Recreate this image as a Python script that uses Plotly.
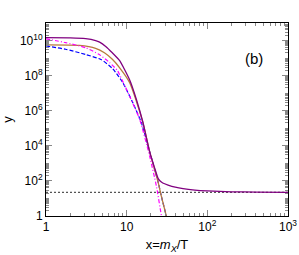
import plotly.graph_objects as go

# ---- data ----
x_purple = [1, 2, 3.1, 4.12, 4.62, 5.5, 6.64, 8.19, 10.9, 13.2, 15.9, 19.3, 22, 24.5, 26, 28, 32.6, 40, 50, 70, 100, 200, 400, 1000]
y_purple = [1.45e10, 1.42e10, 1.28e10, 1.0e10, 8.1e9, 4.6e9, 2.0e9, 7.1e8, 5.6e7, 4.4e6, 2.2e5, 4.5e3, 630, 140, 98, 76, 58, 44, 36, 30, 27, 24, 23, 22.4]

x_brown = [1, 2.6, 4.12, 5.3, 6.64, 8.19, 10.9, 13.2, 15.9, 19.3, 24.5, 27, 31, 33]
y_brown = [5.6e9, 5.25e9, 3.6e9, 2.0e9, 8.5e8, 2.8e8, 4.0e7, 3.5e6, 2.1e5, 4.5e3, 89, 12.6, 1.0, 0.25]

x_blue = [1, 1.75, 3.1, 4.8, 6.7, 8.9, 11.9, 15.2, 19.3, 24.5, 27, 31, 33]
y_blue = [4.9e9, 3.2e9, 1.6e9, 8.3e8, 2.5e8, 4.2e7, 2.9e6, 2.1e5, 4.5e3, 89, 12.6, 1.0, 0.25]

x_magenta = [1, 1.75, 3.1, 4.62, 6.15, 7.66, 8.19, 10.9, 14.5, 19.3, 23.4, 27, 29]
y_magenta = [1.26e10, 7.6e9, 3.9e9, 1.55e9, 5.5e8, 2.0e8, 1.1e8, 6.6e6, 3.2e5, 2.5e3, 49, 1.0, 0.2]

x_dotted = [1, 1000]
y_dotted = [22, 22]

x_ticks = [1, 10, 100, 1000]
x_ticktext = ["1", "10", "10<sup>2</sup>", "10<sup>3</sup>"]
y_ticks = [1, 1e2, 1e4, 1e6, 1e8, 1e10]
y_ticktext = ["1", "10<sup>2</sup>", "10<sup>4</sup>", "10<sup>6</sup>", "10<sup>8</sup>", "10<sup>10</sup>"]

x_minor = [k * 10 ** n for n in range(0, 3) for k in range(2, 10)]
y_minor = [k * 10 ** n for n in range(0, 11) for k in range(1, 10) if not (k == 1 and n % 2 == 0)]

fig = go.Figure()
fig.add_trace(go.Scatter(x=x_dotted, y=y_dotted, mode="lines",
                         line=dict(color="#555555", width=1.3, dash="2px,2px")))
fig.add_trace(go.Scatter(x=x_blue, y=y_blue, mode="lines",
                         line=dict(color="#0000ff", width=1.2, dash="4px,2px", shape="spline", smoothing=0.6)))
fig.add_trace(go.Scatter(x=x_brown, y=y_brown, mode="lines",
                         line=dict(color="#b87a3c", width=1.3, shape="spline", smoothing=0.6)))
fig.add_trace(go.Scatter(x=x_magenta, y=y_magenta, mode="lines",
                         line=dict(color="#ff00ff", width=1.2, dash="4px,2px,1px,2px", shape="spline", smoothing=0.6)))
fig.add_trace(go.Scatter(x=x_purple, y=y_purple, mode="lines",
                         line=dict(color="#800080", width=1.3, shape="spline", smoothing=0.5)))

axis_common = dict(
    showline=True, linecolor="black", linewidth=1, mirror="ticks",
    ticks="inside", ticklen=6, tickcolor="#888888", tickwidth=1,
    showgrid=False, zeroline=False, automargin=False,
    tickfont=dict(family="Liberation Sans, Arial", size=12, color="black"),
)

fig.update_xaxes(type="log", range=[0, 3], tickmode="array", tickvals=x_ticks, ticktext=x_ticktext,
                 minor=dict(tickmode="array", tickvals=x_minor, ticks="inside", ticklen=3,
                            tickcolor="#888888", showgrid=False),
                 title=dict(text="x=<i>m<sub>X</sub></i>/T", font=dict(family="Liberation Sans, Arial", size=13, color="black"),
                            standoff=6),
                 **axis_common)
fig.update_yaxes(type="log", range=[0, 11], tickmode="array", tickvals=y_ticks, ticktext=y_ticktext,
                 minor=dict(tickmode="array", tickvals=y_minor, ticks="inside", ticklen=3,
                            tickcolor="#888888", showgrid=False),
                 title=dict(text="y", font=dict(family="Liberation Sans, Arial", size=13, color="black"),
                            standoff=6),
                 **axis_common)

fig.add_annotation(text="(b)", xref="paper", yref="paper", x=0.905, y=0.87,
                   showarrow=False, font=dict(family="Liberation Sans, Arial", size=15, color="black"))

fig.update_layout(
    width=299, height=255,
    margin=dict(l=46, r=11, t=23, b=39, autoexpand=False),
    paper_bgcolor="white", plot_bgcolor="white",
    showlegend=False,
)

fig.write_html("out.html")
